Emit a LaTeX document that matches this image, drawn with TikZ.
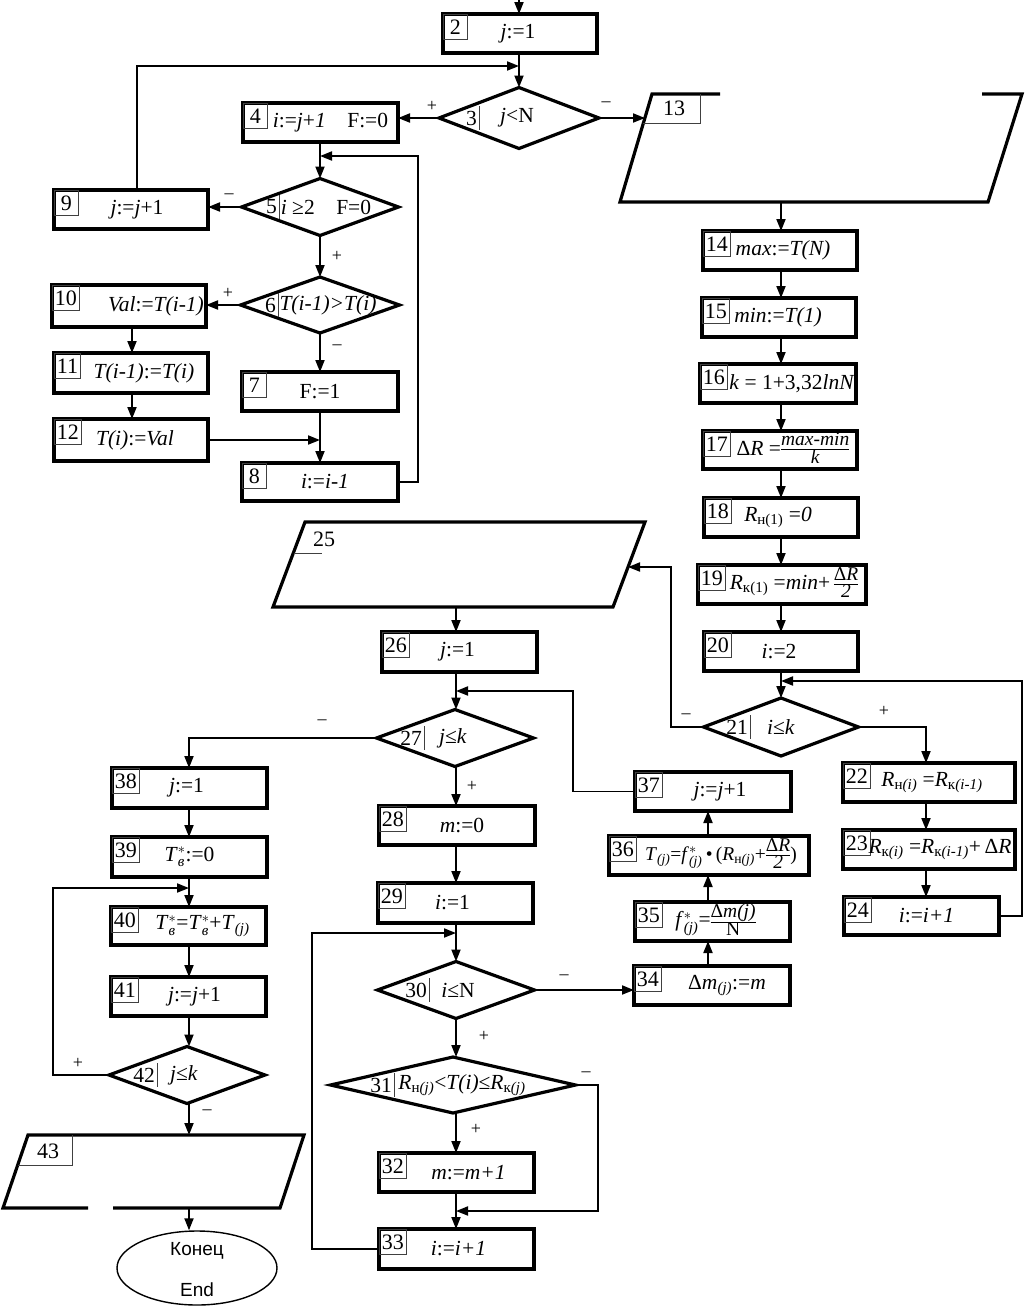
\documentclass[tikz,border=0pt]{standalone}
\usepackage{fontspec}
\usepackage{amsmath}
\setmainfont{Liberation Serif}
\newfontfamily\sansf{Liberation Sans}
\usetikzlibrary{arrows.meta,shapes.geometric,calc}
\newcommand\I[1]{\textit{#1}}
\newcommand\Sb[2]{#1\ensuremath{_{\text{#2}}}}
\newcommand\SpSb[3]{#1\ensuremath{^{#2}_{\text{#3}}}}
\newcommand\fr[2]{{\fontsize{19.5}{21}\selectfont\renewcommand\arraystretch{0.6}\setlength\arrayrulewidth{1pt}\begin{tabular}[c]{@{}c@{}}#1\\\hline #2\end{tabular}}}
\tikzset{
 proc/.style={draw, line width=3.2pt, inner sep=0pt, outer sep=0pt},
 numb/.style={draw=black!75, line width=0.8pt, inner xsep=2.5pt, inner ysep=0pt, minimum width=24pt, minimum height=25pt, font=\fontsize{22}{22}\selectfont, anchor=north west},
 txt/.style={inner sep=0pt, font=\fontsize{21.5}{25}\selectfont},
 dia/.style={draw, diamond, line width=3.2pt, inner sep=0pt, outer sep=0pt},
 arr/.style={line width=1.9pt, -{Triangle[length=12pt,width=9pt]}},
 sgn/.style={inner sep=0pt, font=\fontsize{18}{18}\selectfont},
 io/.style={line width=3.2pt, line join=miter},
 thinl/.style={draw=black!75, line width=0.8pt},
}
% [text shift]{name}{x1}{y1}{x2}{y2}{num}{text}
\newcommand\pbox[8][0]{%
 \node[proc, minimum width={#5-#3}, minimum height={#6-#4}] (#2) at ({(#3+#5)/2},{(#4+#6)/2}) {};
 \node[numb] (#2n) at (#2.north west) {#7};
 \node[txt] (#2t) at ([xshift=#1pt]#2.center) {#8};}
% {name}{cx}{cy}{w}{h}{divx}{num}{text}{textx}
\newcommand\dmd[9]{%
 \node[dia, minimum width=#4, minimum height=#5] (#1) at (#2,#3) {};
 \draw[thinl] (#6,#3-12) -- (#6,#3+12);
 \node[txt, anchor=east] (#1n) at (#6-2,#3) {#7};
 \node[txt] (#1t) at (#9,#3) {#8};}
\begin{document}
\begin{tikzpicture}[x=1pt,y=-1pt]
\useasboundingbox (0,0) rectangle (1025,1307);
% ---------- process boxes
\pbox[-2]{b2}{443}{14}{597}{53}{2}{\I{j}:=1}
\pbox[10]{b4}{243}{103}{398}{142}{4}{\I{i}:=\I{j}+\I{1}\quad F:=0}
\pbox[6]{b9}{54}{190}{208}{229}{9}{\I{j}:=\I{j}+1}
\pbox[27]{b10}{52}{285}{206}{327}{10}{\I{Val}:=\I{T(i-1)}}
\pbox[13]{b11}{54}{353}{208}{393}{11}{\I{T(i-1)}:=\I{T(i)}}
\pbox[4]{b12}{54}{419}{208}{461}{12}{\I{T(i)}:=\I{Val}}
\pbox[0]{b7}{242}{372}{398}{411}{7}{F:=1}
\pbox[5]{b8}{242}{463}{398}{501}{8}{\I{i}:=\I{i-1}}
\pbox[3]{b14}{703}{231}{857}{270}{14}{\I{max}:=\I{T(N)}}
\pbox[-1]{b15}{702}{298}{856}{337}{15}{\I{min}:=\I{T(1)}}
\pbox[14]{b16}{700}{364}{856}{403}{16}{\I{k} = 1+3,32\I{lnN}}
\pbox[13]{b17}{703}{431}{857}{469}{17}{Δ\I{R} =\fr{\I{max-min}}{\I{k}}}
\pbox[-3]{b18}{704}{498}{858}{537}{18}{\Sb{\I{R}}{н(1)} =\I{0}}
\pbox[12]{b19}{698}{565}{866}{604}{19}{\Sb{\I{R}}{к(1)} =\I{min}+\,\fr{Δ\I{R}}{\I{2}}}
\pbox[-2]{b20}{704}{632}{858}{671}{20}{\I{i}:=2}
\pbox[3]{b22}{843}{763}{1015}{802}{22}{\Sb{\I{R}}{н\I{(i)}} =\Sb{\I{R}}{к\I{(i-1)}}}
\pbox[11]{b23}{843}{830}{1015}{869}{23}{\Sb{\I{R}}{к\I{(i)}} =\Sb{\I{R}}{к\I{(i-1)}}+\,Δ\I{R}}
\pbox[5]{b24}{844}{897}{999}{935}{24}{\I{i}:=\I{i+1}}
\pbox[-2]{b26}{382}{632}{537}{672}{26}{\I{j}:=1}
\pbox[5]{b28}{379}{806}{535}{845}{28}{\I{m}:=0}
\pbox[-3]{b29}{378}{883}{533}{923}{29}{\I{i}:=1}
\pbox[7]{b37}{635}{772}{791}{811}{37}{\I{j}:=\I{j}+1}
\pbox[12]{b36}{609}{836}{809}{875}{36}{{\fontsize{19.5}{22}\selectfont\Sb{\I{T}}{\I{(j)}}=\SpSb{\I{f}}{*}{\I{(j)}}\,•\,(\Sb{\I{R}}{н\I{(j)}}+\fr{Δ\I{R}}{\I{2}})}}
\pbox[3]{b35}{635}{902}{790}{941}{35}{\SpSb{\I{f}}{*}{\I{(j)}}=\fr{Δ\I{m(j)}}{N}}
\pbox[15]{b34}{634}{966}{790}{1005}{34}{Δ\I{m}\Sb{}{\I{(j)}}:=\I{m}}
\pbox[12]{b32}{379}{1153}{534}{1192}{32}{\I{m}:=\I{m+1}}
\pbox[2]{b33}{379}{1229}{534}{1269}{33}{\I{i}:=\I{i+1}}
\pbox[-3]{b38}{112}{768}{267}{808}{38}{\I{j}:=1}
\pbox[0]{b39}{112}{837}{267}{877}{39}{\SpSb{\I{T}}{*}{\I{в}}:=0}
\pbox[14]{b40}{111}{907}{266}{945}{40}{\SpSb{\I{T}}{*}{\I{в}}=\SpSb{\I{T}}{*}{\I{в}}+\Sb{\I{T}}{\I{(j)}}}
\pbox[6]{b41}{111}{977}{266}{1016}{41}{\I{j}:=\I{j}+1}
% ---------- decisions
\dmd{d3}{519}{118}{160}{61}{479}{3}{\I{j}<N}{517}
\dmd{d5}{320}{207}{157}{57}{279}{5}{\I{i} ≥2\quad F=0}{326}
\dmd{d6}{320}{305}{159}{56}{278}{6}{\I{T(i-1)>T(i)}}{328}
\dmd{d21}{781}{727}{155}{58}{750}{21}{\I{i}≤\I{k}}{781}
\dmd{d27}{455}{738}{157}{57}{424}{27}{\I{j}≤\I{k}}{453}
\dmd{d30}{456}{990}{157}{57}{429}{30}{\I{i}≤N}{458}
\dmd{d31}{453}{1085}{245}{56}{394}{31}{\Sb{\I{R}}{н\I{(j)}}<\I{T(i)}≤\Sb{\I{R}}{к\I{(j)}}}{462}
\dmd{d42}{187}{1075}{156}{57}{157}{42}{\I{j}≤\I{k}}{184}
% ---------- input/output
\draw[io] (982,94) -- (1022,94) -- (988,202) -- (620,202) -- (652,94) -- (720,94);
\draw[thinl] (700,94) -- (700,123) -- (643.4,123);
\node[txt, font=\fontsize{22}{22}\selectfont] (n13) at (674,108) {13};
\draw[io] (305,522) -- (645,522) -- (613,607) -- (273,607) -- cycle;
\draw[thinl] (293.5,553) -- (322,553);
\node[txt, font=\fontsize{22}{22}\selectfont] (n25) at (324,539) {25};
\draw[io] (88,1208) -- (3,1208) -- (28,1135) -- (304,1135) -- (280,1208) -- (113,1208);
\draw[thinl] (72,1135) -- (72,1165) -- (17.7,1165);
\node[txt, font=\fontsize{22}{22}\selectfont] (n43) at (48,1151) {43};
\node[draw, ellipse, line width=1.4pt, inner sep=0pt, minimum width=160pt, minimum height=74pt] (end) at (197,1268) {};
\node[inner sep=0pt, font=\sansf\fontsize{19}{19}\selectfont] (endA) at (197,1251) {Конец};
\node[inner sep=0pt, font=\sansf\fontsize{19}{19}\selectfont] (endB) at (197,1290) {End};
% ---------- coordinates
\coordinate (top) at (519,0);
\coordinate (j3) at (519,66);
\coordinate (p13in) at (645,118);
\coordinate (j5) at (320,156);
\coordinate (r8) at (418,156);
\coordinate (j8) at (320,440);
\coordinate (p13b) at (781,202);
\coordinate (cR) at (781,0);
\coordinate (j21) at (781,681);
\coordinate (r24) at (1022,681);
\coordinate (l21) at (671,567);
\coordinate (p25in) at (628,567);
\coordinate (cQ) at (926,0);
\coordinate (cM) at (456,0);
\coordinate (p25b) at (456,607);
\coordinate (j27) at (456,691);
\coordinate (c37) at (573,691);
\coordinate (j30) at (456,933);
\coordinate (c33) at (312,933);
\coordinate (cU) at (708,0);
\coordinate (j33) at (456,1211);
\coordinate (c31) at (598,1211);
\coordinate (cL) at (189,0);
\coordinate (j40) at (189,888);
\coordinate (c42) at (53,888);
\coordinate (p43t) at (189,1135);
\coordinate (p43b) at (189,1208);
% ---------- connectors
\draw[arr] (top) -- (top |- b2.north);
\draw[arr] (d3.north |- b2.south) -- (d3.north);
\draw[arr] ([xshift=6pt]b9.north) |- (j3);
\draw[arr] (d3.west) -- (d3.west -| b4.east);
\draw[arr] (d3.east) -- (p13in);
\draw[arr] (d5.north |- b4.south) -- (d5.north);
\draw[arr] (b8.east) -| (r8) -- (j5);
\draw[arr] (d5.west) -- (d5.west -| b9.east);
\draw[arr] (d5.south) -- (d6.north);
\draw[arr] (d6.west) -- (d6.west -| b10.east);
\draw[arr] ([xshift=3pt]b10.south) -- ([xshift=3pt]b10.south |- b11.north);
\draw[arr] ([xshift=1pt]b11.south) -- ([xshift=1pt]b11.south |- b12.north);
\draw[arr] (b12.east) -- (j8);
\draw[arr] (d6.south) -- (d6.south |- b7.north);
\draw[arr] (b7.south) -- (b7.south |- b8.north);
\draw[arr] (p13b) -- (p13b |- b14.north);
\draw[arr] (b14.south -| cR) -- (b15.north -| cR);
\draw[arr] (b15.south -| cR) -- (b16.north -| cR);
\draw[arr] (b16.south -| cR) -- (b17.north -| cR);
\draw[arr] (b17.south -| cR) -- (b18.north -| cR);
\draw[arr] (b18.south -| cR) -- (b19.north -| cR);
\draw[arr] (b19.south -| cR) -- (b20.north -| cR);
\draw[arr] (b20.south -| cR) -- (d21.north);
\draw[arr] (b24.east) -| (r24) -- (j21);
\draw[arr] (d21.west) -| (l21) -- (p25in);
\draw[arr] (d21.east) -| (b22.north -| cQ);
\draw[arr] (b22.south -| cQ) -- (b23.north -| cQ);
\draw[arr] (b23.south -| cQ) -- (b24.north -| cQ);
\draw[arr] (p25b) -- (b26.north -| cM);
\draw[arr] (b26.south -| cM) -- (d27.north -| cM);
\draw[arr] (b37.west) -| (c37) -- (j27);
\draw[arr] (d27.west) -| (b38.north -| cL);
\draw[arr] (d27.south -| cM) -- (b28.north -| cM);
\draw[arr] (b28.south -| cM) -- (b29.north -| cM);
\draw[arr] (b29.south -| cM) -- (d30.north -| cM);
\draw[arr] (b33.west) -| (c33) -- (j30);
\draw[arr] (d30.east) -- (d30.east -| b34.west);
\draw[arr] (b34.north -| cU) -- (b35.south -| cU);
\draw[arr] (b35.north -| cU) -- (b36.south -| cU);
\draw[arr] (b36.north -| cU) -- (b37.south -| cU);
\draw[arr] (d30.south) -- (d30.south |- d31.north);
\draw[arr] (d31.east) -| (c31) -- (j33);
\draw[arr] (d30.south |- d31.south) -- (b32.north -| cM);
\draw[arr] (b32.south -| cM) -- (b33.north -| cM);
\draw[arr] (b38.south -| cL) -- (b39.north -| cL);
\draw[arr] (b39.south -| cL) -- (b40.north -| cL);
\draw[arr] (d42.west) -| (c42) -- (j40);
\draw[arr] (b40.south -| cL) -- (b41.north -| cL);
\draw[arr] (b41.south -| cL) -- (d42.north -| cL);
\draw[arr] (d42.south -| cL) -- (p43t);
\draw[arr] (p43b) -- (p43b |- end.north);
% ---------- branch signs
\node[sgn] (s3p) at (432,106) {+};
\node[sgn] (s3m) at (606,104) {–};
\node[sgn] (s5m) at (229,196) {–};
\node[sgn] (s5p) at (337,256) {+};
\node[sgn] (s6p) at (228,293) {+};
\node[sgn] (s6m) at (337,347) {–};
\node[sgn] (s21m) at (686,716) {–};
\node[sgn] (s21p) at (884,711) {+};
\node[sgn] (s27m) at (322,722) {–};
\node[sgn] (s27p) at (472,786) {+};
\node[sgn] (s30m) at (564,977) {–};
\node[sgn] (s30p) at (484,1036) {+};
\node[sgn] (s31m) at (586,1074) {–};
\node[sgn] (s31p) at (476,1129) {+};
\node[sgn] (s42p) at (78,1063) {+};
\node[sgn] (s42m) at (207,1112) {–};
\end{tikzpicture}
\end{document}
